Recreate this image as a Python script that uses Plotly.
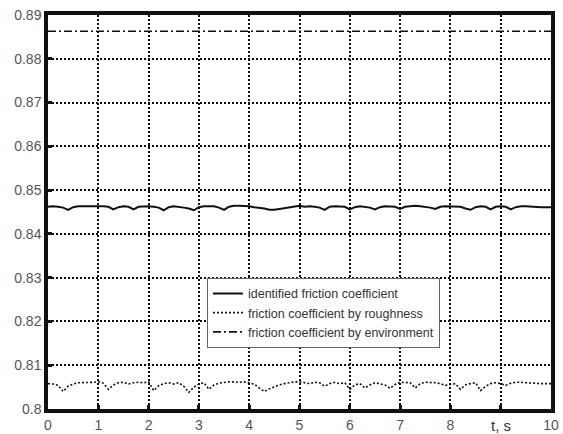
import plotly.graph_objects as go

# time axis (s)
t = [round(i * 0.1, 1) for i in range(101)]

identified = [
    0.8462, 0.8463, 0.8462, 0.8460, 0.8455, 0.8461, 0.8463, 0.8463, 0.8463, 0.8463,
    0.8464, 0.8463, 0.8462, 0.8456, 0.8461, 0.8463, 0.8462, 0.8456, 0.8462, 0.8463,
    0.8463, 0.8462, 0.8460, 0.8454, 0.8461, 0.8463, 0.8462, 0.8460, 0.8458, 0.8454,
    0.8461, 0.8463, 0.8463, 0.8463, 0.8460, 0.8455, 0.8462, 0.8464, 0.8464, 0.8464,
    0.8463, 0.8461, 0.8460, 0.8458, 0.8455, 0.8455, 0.8457, 0.8459, 0.8461, 0.8463,
    0.8464, 0.8462, 0.8463, 0.8462, 0.8460, 0.8455, 0.8462, 0.8463, 0.8463, 0.8462,
    0.8456, 0.8461, 0.8463, 0.8462, 0.8460, 0.8456, 0.8461, 0.8463, 0.8463, 0.8462,
    0.8457, 0.8462, 0.8463, 0.8464, 0.8463, 0.8462, 0.8460, 0.8457, 0.8462, 0.8463,
    0.8463, 0.8463, 0.8462, 0.8458, 0.8455, 0.8461, 0.8463, 0.8462, 0.8456, 0.8462,
    0.8463, 0.8462, 0.8456, 0.8461, 0.8463, 0.8463, 0.8462, 0.8462, 0.8461, 0.8461,
    0.8461,
]

roughness = [
    0.8058, 0.8057, 0.8054, 0.8040, 0.8052, 0.8057, 0.8060, 0.8060, 0.8061, 0.8061,
    0.8062, 0.8059, 0.8045, 0.8055, 0.8060, 0.8061, 0.8057, 0.8060, 0.8061, 0.8060,
    0.8062, 0.8042, 0.8053, 0.8058, 0.8060, 0.8057, 0.8060, 0.8052, 0.8038, 0.8050,
    0.8057, 0.8060, 0.8045, 0.8055, 0.8059, 0.8061, 0.8062, 0.8062, 0.8061, 0.8062,
    0.8060, 0.8057, 0.8048, 0.8040, 0.8046, 0.8051, 0.8055, 0.8058, 0.8060, 0.8062,
    0.8062, 0.8060, 0.8058, 0.8061, 0.8060, 0.8052, 0.8058, 0.8061, 0.8058, 0.8060,
    0.8045, 0.8055, 0.8058, 0.8048, 0.8055, 0.8060, 0.8058, 0.8055, 0.8047, 0.8056,
    0.8061, 0.8061, 0.8060, 0.8048, 0.8058, 0.8061, 0.8061, 0.8060, 0.8058, 0.8054,
    0.8056, 0.8058, 0.8045, 0.8055, 0.8058, 0.8060, 0.8042, 0.8052, 0.8058, 0.8060,
    0.8058, 0.8054, 0.8059, 0.8061, 0.8061, 0.8060, 0.8059, 0.8058, 0.8058, 0.8058,
    0.8058,
]

env_t = [0, 10]
environment = [0.8863, 0.8863]

x_tickvals = list(range(11))
x_ticktext = ["0", "1", "2", "3", "4", "5", "6", "7", "8", "", "10"]

fig = go.Figure()
fig.add_trace(go.Scatter(x=t, y=identified, mode="lines",
                         name="identified friction coefficient",
                         line=dict(color="#111111", width=2)))
fig.add_trace(go.Scatter(x=t, y=roughness, mode="lines",
                         name="friction coefficient by roughness",
                         line=dict(color="#111111", width=1.6, dash="2px,2px")))
fig.add_trace(go.Scatter(x=env_t, y=environment, mode="lines",
                         name="friction coefficient by environment",
                         line=dict(color="#111111", width=1.6, dash="8px,3px,2px,3px")))

axis_common = dict(
    showline=True, linecolor="#111111", linewidth=3.5, mirror=True,
    showgrid=True, gridcolor="#111111", gridwidth=1.6, griddash="2px,2px",
    zeroline=False, ticks="inside", ticklen=4, tickwidth=3, tickcolor="#111111",
    automargin=False,
    tickfont=dict(family="Liberation Sans, Arial, sans-serif", size=14, color="#555555"),
)

fig.update_xaxes(range=[0, 10], tickvals=x_tickvals, ticktext=x_ticktext, **axis_common)
fig.update_yaxes(range=[0.8, 0.89], dtick=0.01, tick0=0.8, **axis_common)

fig.add_annotation(x=9, y=0, xref="x", yref="paper", yanchor="middle", yshift=-16,
                   text="t, s", showarrow=False,
                   font=dict(family="Liberation Sans, Arial, sans-serif", size=15, color="#333333"))

fig.update_layout(
    width=563, height=434,
    margin=dict(l=48, r=12, t=15, b=25, autoexpand=False),
    plot_bgcolor="white", paper_bgcolor="white",
    showlegend=True,
    legend=dict(x=0.316, y=0.333, xanchor="left", yanchor="top",
                bgcolor="white", bordercolor="#666666", borderwidth=1,
                font=dict(family="Liberation Sans, Arial, sans-serif", size=12.5, color="#333333"),
                tracegroupgap=0, itemwidth=30),
)

fig.write_html("out.html")
